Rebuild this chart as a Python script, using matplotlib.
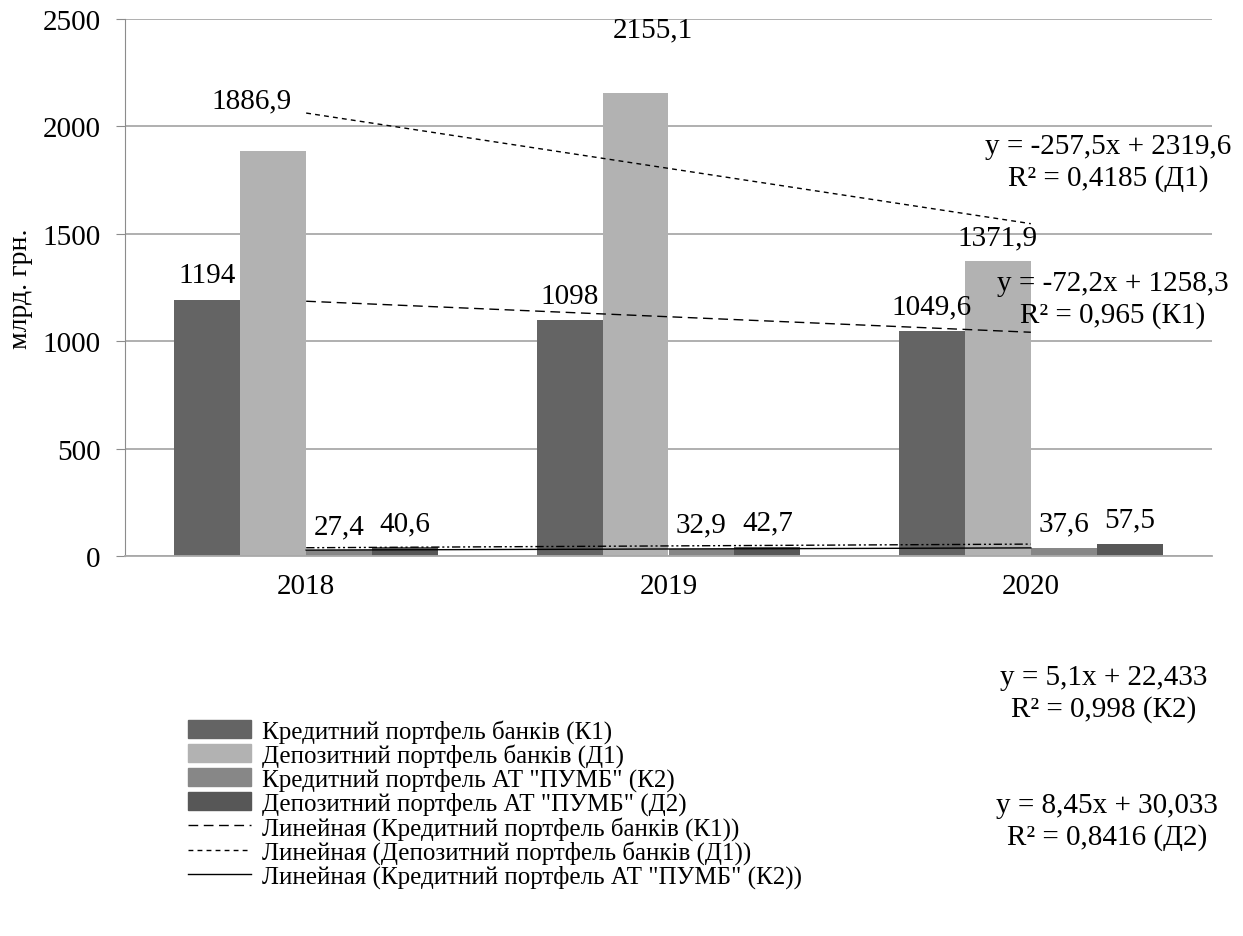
import numpy as np
import matplotlib
matplotlib.use("Agg")
import matplotlib.pyplot as plt
from matplotlib.patches import Patch

plt.rcParams['font.family'] = ['Liberation Serif', 'DejaVu Serif']
plt.rcParams['font.size'] = 21
plt.rcParams['lines.scale_dashes'] = False

years = ['2018', '2019', '2020']
k1 = [1194, 1098, 1049.6]      # Кредитний портфель банків
d1 = [1886.9, 2155.1, 1371.9]  # Депозитний портфель банків
k2 = [27.4, 32.9, 37.6]        # Кредитний портфель АТ "ПУМБ"
d2 = [40.6, 42.7, 57.5]        # Депозитний портфель АТ "ПУМБ"

series_names = ['Кредитний портфель банків (К1)',
                'Депозитний портфель банків (Д1)',
                'Кредитний портфель АТ "ПУМБ" (К2)',
                'Депозитний портфель АТ "ПУМБ" (Д2)']

eq_text = ['y = -257,5x + 2319,6\nR² = 0,4185 (Д1)',
           'y = -72,2x + 1258,3\nR² = 0,965 (К1)',
           'y = 5,1x + 22,433\nR² = 0,998 (К2)',
           'y = 8,45x + 30,033\nR² = 0,8416 (Д2)']

colors = ['#646464', '#b2b2b2', '#878787', '#575757']
trend_dash = [(7, 4), (3.5, 3), None, (6, 2, 1.5, 2, 1.5, 2)]

W, H = 1243, 937
fig = plt.figure(figsize=(W / 100, H / 100), dpi=100)
ax = fig.add_axes([125 / W, 1 - 557 / H, (1212 - 125) / W, (557 - 20) / H])

x = np.arange(len(years))
bw = 0.182
data = [k1, d1, k2, d2]
# hand-moved value labels, (dx, dy) in pixels
lbl_nudge = {(1, 0): (-22, 26), (1, 1): (17, 40)}

for i, vals in enumerate(data):
    xs = x + (i - 1.5) * bw
    ax.bar(xs, vals, width=bw, color=colors[i], zorder=2, linewidth=0)
    for j, v in enumerate(vals):
        txt = ('%g' % v).replace('.', ',')
        dx, dy = lbl_nudge.get((i, j), (0, 0))
        ax.annotate(txt, (xs[j], v), xytext=(dx * 0.72, 8 + dy * 0.72),
                    textcoords='offset points', ha='center', va='bottom',
                    fontsize=21, zorder=4)

# linear trends, Excel style (x = 1, 2, 3)
xt = np.arange(1, len(years) + 1)
trend_handles = []
for i, vals in enumerate(data):
    slope, icpt = np.polyfit(xt, vals, 1)
    kw = dict(color='black', lw=1.0, zorder=3)
    if trend_dash[i] is not None:
        kw['dashes'] = trend_dash[i]
    ln, = ax.plot(x, slope * xt + icpt, **kw)
    trend_handles.append(ln)

ax.set_xlim(-0.5, 2.5)
ax.set_ylim(0, 2500)
ax.set_yticks(np.arange(0, 2501, 500))
ax.set_xticks(x)
ax.set_xticklabels(years)
ax.yaxis.grid(True, color='#a9a9a9', lw=1.3, zorder=0)
ax.set_axisbelow(True)
for s in ['top', 'right']:
    ax.spines[s].set_visible(False)
ax.spines['left'].set_color('#8c8c8c')
ax.spines['bottom'].set_color('#a9a9a9')
ax.spines['bottom'].set_linewidth(1.3)
ax.tick_params(axis='y', length=6.5, color='#8c8c8c', pad=11, labelsize=21)
ax.tick_params(axis='x', length=0, pad=12, labelsize=21)
ax.set_ylabel('млрд. грн.', fontsize=20)
ax.yaxis.set_label_coords(-0.085, 0.5)

# trend equations
eq_pos = [(1108, 163), (1113, 300), (1104, 694), (1107, 822)]
for t, (px, py) in zip(eq_text, eq_pos):
    fig.text(px / W, 1 - py / H, t, ha='center', va='center',
             multialignment='center', fontsize=21, linespacing=1.25)

handles = [Patch(color=c) for c in colors] + trend_handles[:3]
labels = series_names + ['Линейная (%s)' % n for n in series_names[:3]]
fig.legend(handles, labels, loc='upper left',
           bbox_to_anchor=(188 / W, 1 - 720 / H), frameon=False,
           borderpad=0, borderaxespad=0, handlelength=2.5,
           handletextpad=0.45, labelspacing=0.02, fontsize=18)

fig.savefig('out.png', dpi=100)
